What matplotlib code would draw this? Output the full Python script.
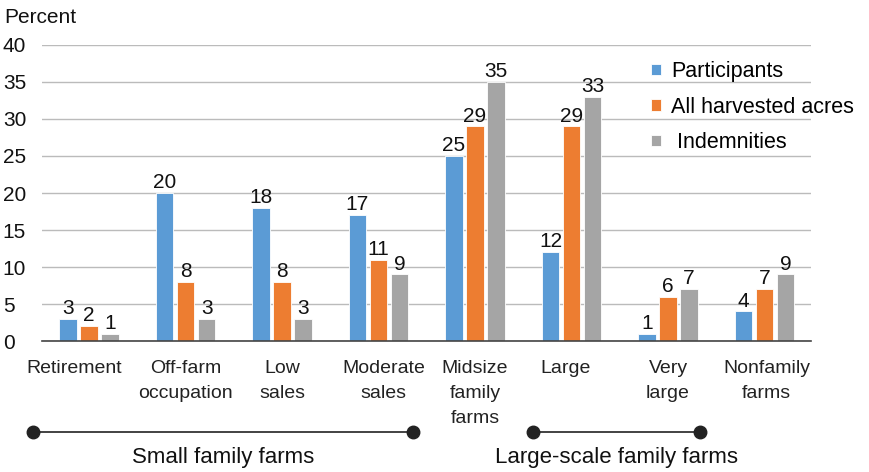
import numpy as np
import matplotlib.pyplot as plt
import matplotlib.transforms as mtransforms
from matplotlib.lines import Line2D

plt.rcParams['font.family'] = ['Liberation Sans', 'DejaVu Sans']

categories = ['Retirement', 'Off-farm\noccupation', 'Low\nsales', 'Moderate\nsales',
              'Midsize\nfamily\nfarms', 'Large', 'Very\nlarge', 'Nonfamily\nfarms']
participants = [3, 20, 18, 17, 25, 12, 1, 4]
acres = [2, 8, 8, 11, 29, 29, 6, 7]
indemnities = [1, 3, 3, 9, 35, 33, 7, 9]
series_names = ['Participants', 'All harvested acres', ' Indemnities']
colors = ['#5B9BD5', '#ED7D31', '#A5A5A5']

fig = plt.figure(figsize=(8.7, 4.72), dpi=100)
ax = fig.add_axes([0.048, 0.2775, 0.884, 0.6272])

x = np.arange(len(categories))
w = 0.178
step = 0.218
for i, (vals, name, c) in enumerate(zip([participants, acres, indemnities], series_names, colors)):
    bars = ax.bar(x + (i - 1) * step, vals, width=w, color=c, edgecolor='white',
                  linewidth=0.6, label=name, zorder=3)
    for b, v in zip(bars, vals):
        ax.text(b.get_x() + b.get_width() / 2, v + 0.1, str(v), ha='center', va='bottom',
                fontsize=15, color='#111111')

ax.set_xlim(-0.49, 7.48)
ax.set_ylim(0, 40)
ax.set_yticks(range(0, 41, 5))
ax.yaxis.grid(True, color='#BBBBBB', linewidth=1, zorder=0)
ax.set_axisbelow(True)
for s in ['top', 'right', 'left']:
    ax.spines[s].set_visible(False)
ax.spines['bottom'].set_color('#444444')
ax.spines['bottom'].set_linewidth(1.2)
ax.spines['bottom'].set_zorder(4)
ax.set_xticks(x)
ax.set_xticklabels(categories, fontsize=14, linespacing=1.6, color='#222222')
ax.tick_params(axis='x', length=0, pad=14)
ax.tick_params(axis='y', length=0, pad=28, labelsize=15, labelcolor='#111111')
for t in ax.get_yticklabels():
    t.set_horizontalalignment('left')

# small horizontal nudges of category labels (pixels)
label_shift = [-15, 0, 0, 5, 0, -6, 0, 2]
for t, dx in zip(ax.get_xticklabels(), label_shift):
    t.set_transform(t.get_transform() + mtransforms.ScaledTranslation(dx / 100, 0, fig.dpi_scale_trans))

fig.text(0.005, 0.962, 'Percent', fontsize=15, ha='left', va='center', color='#111111')

leg = ax.legend(loc='upper left', bbox_to_anchor=(0.781, 0.975), frameon=False, fontsize=15.5,
                handlelength=0.45, handleheight=0.45, handletextpad=0.5, labelspacing=0.68,
                borderaxespad=0)

# group brackets
for x0, x1, label in [(33, 413, 'Small family farms'), (533, 700, 'Large-scale family farms')]:
    y = 1 - 432 / 472
    fig.add_artist(Line2D([x0 / 870, x1 / 870], [y, y], transform=fig.transFigure,
                          color='#222222', linewidth=1.2, marker='o', markersize=9))
    fig.text((x0 + x1) / 2 / 870, 1 - 458 / 472, label, fontsize=16, ha='center',
             va='center', color='#111111')

fig.savefig('out.png', dpi=100)
